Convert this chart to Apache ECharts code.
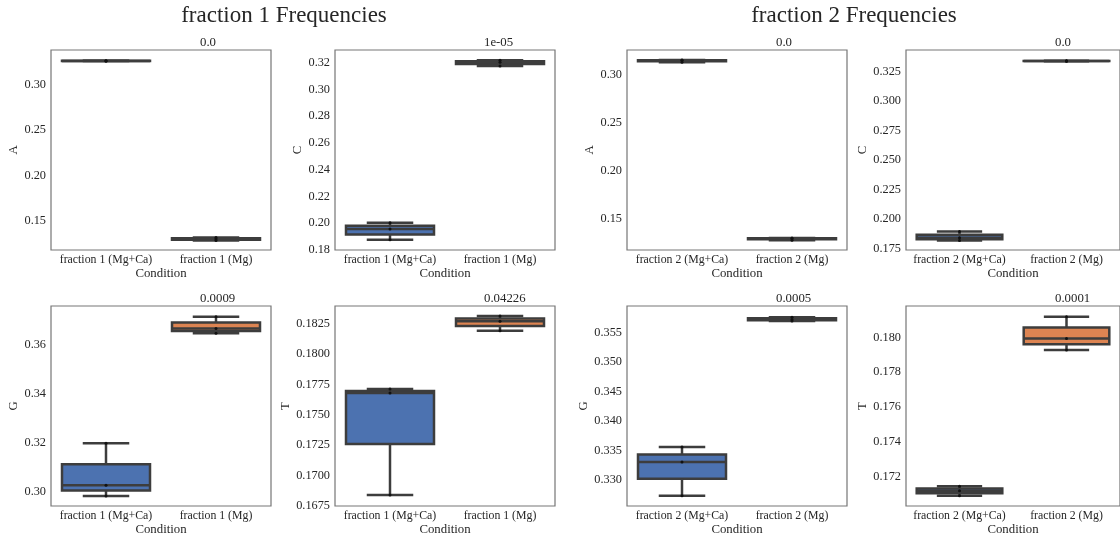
<!DOCTYPE html>
<html>
<head>
<meta charset="utf-8">
<script src="https://cdn.jsdelivr.net/npm/echarts@6/dist/echarts.min.js"></script>
<style>
  html, body { margin: 0; padding: 0; background: #fff; }
  #chart { width: 1120px; height: 541px; }
</style>
</head>
<body>
<div id="chart"></div>
<script>
// Conditions per fraction
const catsF1 = ['fraction 1 (Mg+Ca)', 'fraction 1 (Mg)'];
const catsF2 = ['fraction 2 (Mg+Ca)', 'fraction 2 (Mg)'];
const bases = ['A', 'C', 'G', 'T'];

// Replicate nucleotide frequencies, fraction 1
const f1A_MgCa = [0.3254, 0.3256, 0.3258];
const f1A_Mg   = [0.1286, 0.1303, 0.1319];
const f1C_MgCa = [0.1875, 0.1956, 0.2003];
const f1C_Mg   = [0.3175, 0.3204, 0.3218];
const f1G_MgCa = [0.2982, 0.3026, 0.3198];
const f1G_Mg   = [0.3648, 0.3668, 0.3716];
const f1T_MgCa = [0.16838, 0.17680, 0.17714];
const f1T_Mg   = [0.18193, 0.18272, 0.18316];

// Replicate nucleotide frequencies, fraction 2
const f2A_MgCa = [0.3133, 0.3152, 0.3156];
const f2A_Mg   = [0.1278, 0.1298, 0.1303];
const f2C_MgCa = [0.1816, 0.1839, 0.1893];
const f2C_Mg   = [0.3339, 0.3341, 0.3342];
const f2G_MgCa = [0.32734, 0.33306, 0.33560];
const f2G_Mg   = [0.35697, 0.35725, 0.35762];
const f2T_MgCa = [0.17091, 0.17119, 0.17146];
const f2T_Mg   = [0.17927, 0.17994, 0.18118];

// p-values shown above each panel (A, C, G, T)
const pF1 = ['0.0', '1e-05', '0.0009', '0.04226'];
const pF2 = ['0.0', '0.0', '0.0005', '0.0001'];

// y tick labels per panel
const ticksF1A = ['0.15', '0.20', '0.25', '0.30'];
const ticksF1C = ['0.18', '0.20', '0.22', '0.24', '0.26', '0.28', '0.30', '0.32'];
const ticksF1G = ['0.30', '0.32', '0.34', '0.36'];
const ticksF1T = ['0.1675', '0.1700', '0.1725', '0.1750', '0.1775', '0.1800', '0.1825'];
const ticksF2A = ['0.15', '0.20', '0.25', '0.30'];
const ticksF2C = ['0.175', '0.200', '0.225', '0.250', '0.275', '0.300', '0.325'];
const ticksF2G = ['0.330', '0.335', '0.340', '0.345', '0.350', '0.355'];
const ticksF2T = ['0.172', '0.174', '0.176', '0.178', '0.180'];

// y axis limits per panel
const rangeF1A = [0.1182, 0.3376];
const rangeF1C = [0.1799, 0.3295];
const rangeF1G = [0.2941, 0.3760];
const rangeF1T = [0.16748, 0.18398];
const rangeF2A = [0.1177, 0.3260];
const rangeF2C = [0.1736, 0.3434];
const rangeF2G = [0.32559, 0.35953];
const rangeF2T = [0.17032, 0.18180];

const FONT = 'Liberation Serif';
const TEXT = '#262626';
const GRAY = '#3d3d3d';
const FILLS = ['#4c72b0', '#dd8452'];

// linear-interpolated quantile on a sorted list
function quant(s, p) {
  const h = (s.length - 1) * p;
  const i = Math.floor(h);
  const e = h - i;
  return e ? s[i] + e * (s[i + 1] - s[i]) : s[i];
}
// [whiskerLow, Q1, median, Q3, whiskerHigh] with 1.5 IQR whiskers
function boxStats(vals) {
  const s = vals.slice().sort((a, b) => a - b);
  const q1 = quant(s, 0.25), q3 = quant(s, 0.75), iqr = q3 - q1;
  const lo = s.find(v => v >= q1 - 1.5 * iqr);
  const hi = s.slice().reverse().find(v => v <= q3 + 1.5 * iqr);
  return [lo, q1, quant(s, 0.5), q3, hi];
}

const colLeft = [51, 335, 627, 906];
const rowTop = [50, 306];
const PW = 220, PH = 200;

const panels = [
  { cats: catsF1, base: 'A', groups: [f1A_MgCa, f1A_Mg], p: pF1[0], ticks: ticksF1A, range: rangeF1A, col: 0, row: 0, gap: 29 },
  { cats: catsF1, base: 'C', groups: [f1C_MgCa, f1C_Mg], p: pF1[1], ticks: ticksF1C, range: rangeF1C, col: 1, row: 0, gap: 28 },
  { cats: catsF1, base: 'G', groups: [f1G_MgCa, f1G_Mg], p: pF1[2], ticks: ticksF1G, range: rangeF1G, col: 0, row: 1, gap: 29 },
  { cats: catsF1, base: 'T', groups: [f1T_MgCa, f1T_Mg], p: pF1[3], ticks: ticksF1T, range: rangeF1T, col: 1, row: 1, gap: 41 },
  { cats: catsF2, base: 'A', groups: [f2A_MgCa, f2A_Mg], p: pF2[0], ticks: ticksF2A, range: rangeF2A, col: 2, row: 0, gap: 28 },
  { cats: catsF2, base: 'C', groups: [f2C_MgCa, f2C_Mg], p: pF2[1], ticks: ticksF2C, range: rangeF2C, col: 3, row: 0, gap: 34 },
  { cats: catsF2, base: 'G', groups: [f2G_MgCa, f2G_Mg], p: pF2[2], ticks: ticksF2G, range: rangeF2G, col: 2, row: 1, gap: 33 },
  { cats: catsF2, base: 'T', groups: [f2T_MgCa, f2T_Mg], p: pF2[3], ticks: ticksF2T, range: rangeF2T, col: 3, row: 1, gap: 36 }
];

function renderBox(params, api) {
  const c = api.value(0);
  const pLo = api.coord([c, api.value(1)]);
  const pQ1 = api.coord([c, api.value(2)]);
  const pMed = api.coord([c, api.value(3)]);
  const pQ3 = api.coord([c, api.value(4)]);
  const pHi = api.coord([c, api.value(5)]);
  const bw = api.size([1, 0])[0] * 0.8;
  const cw = bw * 0.5;
  const x = pQ1[0];
  const ln = { stroke: GRAY, lineWidth: 2.5, lineCap: 'square' };
  return {
    type: 'group',
    children: [
      { type: 'rect', shape: { x: x - bw / 2, y: pQ3[1], width: bw, height: pQ1[1] - pQ3[1] },
        style: { fill: FILLS[c], stroke: GRAY, lineWidth: 2.5, lineJoin: 'miter' } },
      { type: 'line', shape: { x1: x, y1: pQ1[1], x2: x, y2: pLo[1] }, style: { stroke: GRAY, lineWidth: 2.5 } },
      { type: 'line', shape: { x1: x, y1: pQ3[1], x2: x, y2: pHi[1] }, style: { stroke: GRAY, lineWidth: 2.5 } },
      { type: 'line', shape: { x1: x - cw / 2, y1: pLo[1], x2: x + cw / 2, y2: pLo[1] }, style: ln },
      { type: 'line', shape: { x1: x - cw / 2, y1: pHi[1], x2: x + cw / 2, y2: pHi[1] }, style: ln },
      { type: 'line', shape: { x1: x - bw / 2, y1: pMed[1], x2: x + bw / 2, y2: pMed[1] }, style: { stroke: GRAY, lineWidth: 2.5 } }
    ]
  };
}

const grid = [], xAxis = [], yAxis = [], series = [], graphic = [];

panels.forEach((pn, i) => {
  const left = colLeft[pn.col], top = rowTop[pn.row];
  grid.push({ left: left, top: top, width: PW, height: PH, show: true,
    borderColor: '#767676', borderWidth: 1.2, backgroundColor: 'transparent' });
  xAxis.push({
    type: 'category', gridIndex: i, data: pn.cats,
    axisLine: { show: false }, axisTick: { show: false }, splitLine: { show: false },
    axisLabel: { interval: 0, hideOverlap: false, margin: 4, fontFamily: FONT, fontSize: 11.8, color: TEXT },
    name: 'Condition', nameLocation: 'middle', nameGap: 16,
    nameTextStyle: { fontFamily: FONT, fontSize: 12.8, color: TEXT }
  });
  const tickVals = pn.ticks.map(Number);
  yAxis.push({
    type: 'value', gridIndex: i, min: pn.range[0], max: pn.range[1],
    axisLine: { show: false }, splitLine: { show: false },
    axisTick: { show: false },
    axisLabel: {
      margin: 5, fontFamily: FONT, fontSize: 12.3, color: TEXT,
      hideOverlap: false, showMinLabel: true, showMaxLabel: true,
      customValues: tickVals,
      formatter: v => {
        const k = tickVals.findIndex(t => Math.abs(t - v) < 1e-9);
        return k >= 0 ? pn.ticks[k] : '';
      }
    },
    name: pn.base, nameLocation: 'middle', nameGap: pn.gap, nameRotate: 90,
    nameTextStyle: { fontFamily: FONT, fontSize: 12.8, color: TEXT }
  });
  series.push({
    type: 'custom', xAxisIndex: i, yAxisIndex: i, renderItem: renderBox,
    encode: { x: 0, y: [1, 2, 3, 4, 5] },
    data: pn.groups.map((g, c) => [c].concat(boxStats(g))),
    silent: true, z: 2
  });
  const pts = [];
  pn.groups.forEach((g, c) => g.forEach(v => pts.push([c, v])));
  series.push({
    type: 'scatter', xAxisIndex: i, yAxisIndex: i, data: pts,
    symbolSize: 3, itemStyle: { color: '#111', opacity: 1 }, silent: true, z: 3
  });
  graphic.push({
    type: 'text', left: left + 149, top: top - 14,
    style: { text: pn.p, font: `12.8px "${FONT}"`, fill: TEXT }
  });
});

graphic.push({
  type: 'text', x: 284, y: 16,
  style: { text: 'fraction 1 Frequencies', font: `23px "${FONT}"`, fill: TEXT,
    textAlign: 'center', textVerticalAlign: 'middle' }
});
graphic.push({
  type: 'text', x: 854, y: 16,
  style: { text: 'fraction 2 Frequencies', font: `23px "${FONT}"`, fill: TEXT,
    textAlign: 'center', textVerticalAlign: 'middle' }
});

const chart = echarts.init(document.getElementById('chart'), null, { renderer: 'canvas' });
chart.setOption({
  animation: false,
  backgroundColor: '#ffffff',
  grid: grid, xAxis: xAxis, yAxis: yAxis, series: series, graphic: graphic
});
</script>
</body>
</html>
